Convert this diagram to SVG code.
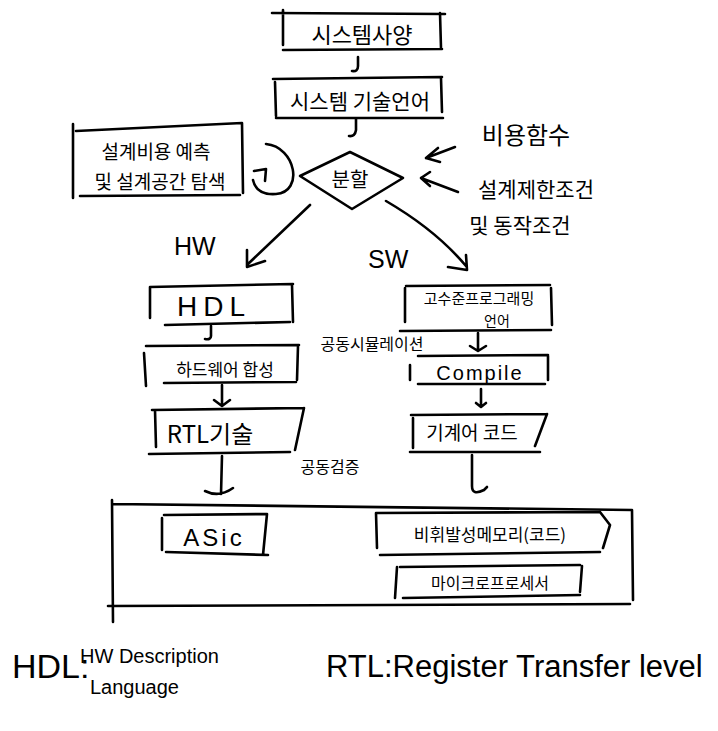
<svg xmlns="http://www.w3.org/2000/svg" width="718" height="731" viewBox="0 0 718 731">
<style>
.s{fill:none;stroke:#000;stroke-width:2.6;stroke-linecap:round;stroke-linejoin:round}
.t{font-family:"Noto Sans CJK KR","Noto Sans",sans-serif;fill:#000;text-anchor:middle;dominant-baseline:central}
.l{font-family:"Liberation Sans","Noto Sans",sans-serif;fill:#000}
</style>
<rect width="718" height="731" fill="#fff"/>
<g id="connectors">
<path class="s" d="M358,57 L358,66 Q358,72 352,71"/>
<path class="s" d="M356,119 L356,130 Q355,137 349,136"/>
<path class="s" d="M266,144 C296,147 304,192 276,194 C262,195 255,189 253,180 M254,171 L266,169 L265,181"/>
<path class="s" d="M455,147 L426,158 M426,158 L438,148 M426,158 L440,162"/>
<path class="s" d="M458,192 L421,178 M421,178 L430,172 M421,178 L430,186"/>
<path class="s" d="M310,205 L248,264 M247,250 L247,267 L265,261"/>
<path class="s" d="M386,201 C410,215 440,235 466,266 M448,267 L467,270 L466,255"/>
<path class="s" d="M211,326 L211,336 Q211,340 205,339"/>
<path class="s" d="M222,385 L222,404 M214,400 L222,406 L230,400"/>
<path class="s" d="M222,456 L221,494 M205,491 Q219,498 233,488"/>
<path class="s" d="M478,333 L478,351 M470,346 L478,351 L486,346"/>
<path class="s" d="M481,389 L481,406 M476,403 L481,407 L486,403"/>
<path class="s" d="M472,455 L472,486 Q472,496 484,490 L487,487"/>
</g>
<g id="n-spec">
<path class="s" d="M272,13 L445,14 M283,10 L283,45 M440,13 L441,48 M283,50 L442,49"/>
<text class="t" x="362" y="33" font-size="22">시스템사양</text>
</g>
<g id="n-sysdesc">
<path class="s" d="M273,79 L442,77 M275,82 L276,116 M441,78 L442,112 M276,118 L443,118"/>
<text class="t" x="360" y="100" font-size="21">시스템 기술언어</text>
</g>
<g id="n-estimate">
<path class="s" d="M73,124 L73,198 M76,131 L242,123 M242,123 L243,193 M80,196 L240,195"/>
<text class="t" x="156" y="150" font-size="19">설계비용 예측</text>
<text class="t" x="160" y="180" font-size="19">및 설계공간 탐색</text>
</g>
<g id="n-partition">
<path class="s" d="M300,176 L350,152 L403,178 L352,209 Z"/>
<text class="t" x="350" y="178" font-size="20">분할</text>
</g>
<g id="lbl-cost">
<text class="t" x="526" y="133" font-size="24">비용함수</text>
</g>
<g id="lbl-constraint">
<text class="t" x="536" y="188" font-size="21">설계제한조건</text>
<text class="t" x="520" y="224" font-size="21">및 동작조건</text>
</g>
<g id="lbl-hw"><text class="l" x="174" y="255" font-size="25">HW</text></g>
<g id="lbl-sw"><text class="l" x="368" y="268" font-size="25">SW</text></g>
<g id="n-hdl">
<path class="s" d="M150,287 L293,284 M150,287 L150,318 M292,285 L293,322 M165,325 L290,322"/>
<text class="l" x="214" y="316" font-size="28" text-anchor="middle" letter-spacing="6">HDL</text>
</g>
<g id="n-hwsynth">
<path class="s" d="M146,346 L299,345 M144,353 L146,386 M298,346 L297,380 M164,383 L296,382"/>
<text class="t" x="225" y="368" font-size="17">하드웨어 합성</text>
</g>
<g id="n-rtl">
<path class="s" d="M152,410 L304,408 M155,410 L156,447 M304,408 L295,450 M149,454 L290,452"/>
<text class="t" x="210" y="432" font-size="24">RTL기술</text>
</g>
<g id="lbl-cosim"><text class="t" x="372" y="343" font-size="16">공동시뮬레이션</text></g>
<g id="lbl-cover"><text class="t" x="330" y="466" font-size="16">공동검증</text></g>
<g id="n-hll">
<path class="s" d="M406,286 L550,285 M405,288 L405,322 M551,288 L552,325 M400,331 L551,330"/>
<text class="t" x="479" y="297" font-size="15">고수준프로그래밍</text>
<text class="t" x="497" y="320" font-size="14">언어</text>
</g>
<g id="n-compile">
<path class="s" d="M418,356 L548,355 M410,365 L410,380 M548,356 L548,380 M418,384 L545,384"/>
<text class="l" x="480" y="380" font-size="20" text-anchor="middle" letter-spacing="2">Compile</text>
</g>
<g id="n-machine">
<path class="s" d="M411,415 L547,414 M413,418 L413,448 M547,414 L535,446 M410,452 L540,452"/>
<text class="t" x="472" y="431" font-size="19">기계어 코드</text>
</g>
<g id="n-platform">
<path class="s" d="M112,504 L632,510 M112,500 L113,622 M108,606 L630,604 M632,510 L633,600"/>
</g>
<g id="n-asic">
<path class="s" d="M164,515 L267,514 M162,518 L162,550 M267,514 L263,555 M166,552 L268,555"/>
<text class="l" x="214" y="546" font-size="24" text-anchor="middle" letter-spacing="3">ASic</text>
</g>
<g id="n-nvm">
<path class="s" d="M377,513 L600,512 M376,513 L377,548 M600,512 L610,525 L603,548 M380,555 L600,552"/>
<text class="t" x="490" y="533" font-size="17">비휘발성메모리(코드)</text>
</g>
<g id="n-mcu">
<path class="s" d="M400,567 L580,565 M397,567 L395,598 M582,566 L580,592 M403,598 L580,595"/>
<text class="t" x="490" y="582" font-size="16">마이크로프로세서</text>
</g>
<g id="legend">
<text class="l" x="12" y="678" font-size="34">HDL:</text>
<text class="l" x="80" y="663" font-size="20">HW Description</text>
<text class="l" x="90" y="694" font-size="20">Language</text>
<text class="l" x="326" y="677" font-size="31">RTL:Register Transfer level</text>
</g>
</svg>
